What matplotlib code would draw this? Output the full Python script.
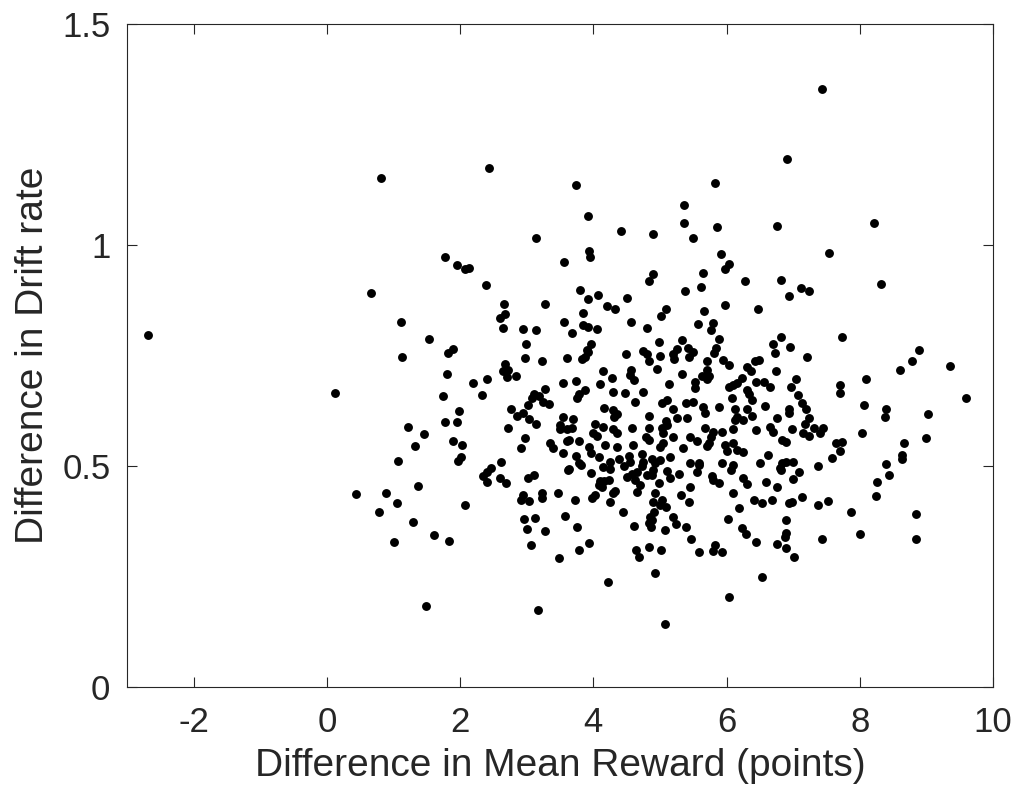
import numpy as np
import matplotlib.pyplot as plt

plt.rcParams['font.family'] = ['Liberation Sans', 'DejaVu Sans']

# difference in mean reward (points), difference in drift rate
reward = [
    0.82, 2.43, 3.14, 1.77, 1.96, 2.08, 2.14, 2.39, 0.67,
    6.91, 3.74, 5.82, 3.92, 5.36, 4.41, 4.89, 5.36, 5.49, 5.85, 6.76,
    3.94, 3.95, 3.56, 5.91, 6.03, 5.97, 5.64, 4.89, 4.84, 6.27, 6.82,
    3.80, 4.07, 3.92, 4.50, 5.37, 5.62, 6.94,
    7.44, 8.21, 7.54, 8.32, 7.12, 7.24,
    -2.69, 0.12,
    2.66, 3.27, 2.67, 2.60, 1.11, 3.56, 2.65, 2.95, 3.14, 1.53, 2.99, 1.89, 1.82,
    1.13, 2.98, 3.23, 3.61, 2.68, 2.64, 2.72, 2.71, 2.84, 1.81, 2.41, 2.19, 3.54,
    3.28, 1.75, 2.33, 3.11, 3.08, 3.19, 3.25, 3.34, 3.02, 2.76, 1.99, 2.94, 2.86,
    3.03, 3.14, 3.55, 1.78, 1.95, 3.50, 3.50, 1.22, 2.72, 1.46, 2.98, 3.61, 1.90,
    2.03, 1.32, 3.35, 3.40, 2.92, 3.54, 2.02, 1.97, 1.07, 2.61,
    2.46, 2.40, 2.34, 2.40, 2.60, 2.69, 3.02, 3.11, 2.94, 2.91, 3.03, 3.23, 3.23,
    3.47, 3.62, 0.43, 0.89, 1.37, 1.05, 0.78, 2.07, 1.30, 2.96, 3.13, 3.58, 3.01,
    3.28, 1.61, 1.83, 1.01, 3.07, 3.49, 1.49, 3.17,
    4.20, 4.33, 3.84, 5.09, 5.02, 5.66, 5.97, 6.48, 3.84, 3.92, 4.05, 4.56, 3.68,
    4.80, 5.57, 5.79, 5.76, 6.82, 6.70, 6.73, 5.89, 5.33, 4.99, 3.96, 3.90, 3.92,
    4.49, 4.74, 4.80, 5.25, 5.20, 5.21, 5.42, 5.49, 5.43, 5.84, 5.81, 3.83, 3.87,
    5.00, 4.84, 5.70, 5.95, 6.03, 6.49, 6.43, 6.30, 6.36, 4.14, 4.57, 4.55, 4.61,
    4.95, 5.33, 5.70, 5.74, 5.63, 5.70, 5.53, 5.53, 6.74, 4.28, 4.10, 3.74, 5.13,
    6.23, 6.16, 6.10, 6.03, 6.44, 6.57, 6.65, 3.88, 3.79, 3.76, 4.29, 4.48, 4.74,
    6.31, 6.34, 6.38, 6.08, 4.63, 5.10, 5.03, 5.39, 5.50, 5.19, 4.16, 4.30, 4.35,
    4.31, 5.65, 5.68, 5.88, 6.13, 6.15, 6.30, 6.38, 6.58, 3.70, 4.84, 5.41, 5.09,
    5.25, 6.25, 6.13, 6.76, 3.60, 3.68, 4.03, 4.14, 4.00, 4.06, 4.30, 4.35, 4.58,
    4.83, 4.79, 4.84, 5.03, 5.10, 5.05, 5.20, 5.68, 5.80, 5.76, 5.73, 5.93, 6.09,
    6.44, 6.65, 6.70, 6.83, 6.90, 3.63, 3.78, 5.45, 5.55, 4.18, 4.35, 3.93, 3.96,
    4.60, 5.00, 5.05, 5.35, 5.70, 5.98, 6.00, 6.10, 6.15, 6.24, 3.74, 3.78, 4.08,
    4.25, 4.15, 4.39, 4.53, 4.55, 4.73, 4.75, 4.88, 4.93, 5.00, 5.15, 5.45, 5.58,
    5.93, 6.10, 6.63, 6.83, 6.90, 6.50,
    3.63, 3.81, 3.96, 4.25, 4.46, 4.73, 4.90, 5.11, 5.28, 5.55, 5.59, 6.06, 6.24,
    6.31, 6.59, 6.76, 6.81, 4.10, 4.08, 4.16, 4.23, 4.13, 4.50, 4.58, 4.65, 4.63,
    4.80, 4.88, 4.70, 4.65, 4.98, 5.15, 5.78, 5.80, 5.89, 5.45, 3.72, 3.98, 4.03,
    4.25, 4.30, 4.33, 4.93, 4.90, 5.03, 5.00, 5.09, 5.31, 5.43, 6.09, 6.41, 6.54,
    6.69, 6.19, 6.94, 4.44, 4.91, 4.85, 4.88, 4.84, 5.20, 5.24, 5.39, 6.02, 6.89,
    3.76, 4.61, 4.87, 5.08, 6.23, 6.29, 6.90, 6.88, 3.93, 3.78, 5.47, 6.45, 6.76,
    6.89, 4.64, 4.69, 4.83, 5.01, 5.58, 5.83, 5.79, 5.93, 4.93, 4.22, 6.54, 6.04,
    5.07,
    7.74, 6.95, 7.21, 7.04, 6.97, 7.70, 7.71, 8.10, 8.61, 8.79, 8.89, 9.36, 9.59,
    7.07, 7.13, 7.19, 8.07, 8.39, 8.38, 9.03, 6.94, 6.94, 7.24, 7.18, 6.98, 7.32,
    7.45, 7.41, 7.15, 7.24, 8.03, 7.65, 7.73, 7.70, 9.00, 8.67, 8.63, 8.63, 7.00,
    7.59, 7.38, 8.39,
    6.82, 7.09, 8.44, 8.26, 8.24, 7.00, 6.98, 7.14, 7.37, 7.53, 7.87, 8.84, 7.44,
    8.00, 8.84, 7.01,
]
drift = [
    1.151, 1.174, 1.017, 0.972, 0.955, 0.945, 0.948, 0.909, 0.891,
    1.194, 1.136, 1.141, 1.066, 1.090, 1.031, 1.024, 1.050, 1.017, 1.041, 1.042,
    0.986, 0.972, 0.962, 0.980, 0.957, 0.945, 0.936, 0.934, 0.919, 0.919, 0.921,
    0.898, 0.888, 0.879, 0.880, 0.895, 0.904, 0.884,
    1.353, 1.050, 0.983, 0.912, 0.902, 0.897,
    0.796, 0.665,
    0.867, 0.866, 0.845, 0.834, 0.825, 0.826, 0.812, 0.810, 0.807, 0.787, 0.775, 0.764, 0.755,
    0.746, 0.744, 0.738, 0.744, 0.731, 0.716, 0.717, 0.701, 0.704, 0.708, 0.698, 0.688, 0.688,
    0.674, 0.658, 0.661, 0.662, 0.655, 0.658, 0.644, 0.640, 0.637, 0.629, 0.625, 0.619, 0.613,
    0.606, 0.594, 0.610, 0.600, 0.600, 0.593, 0.583, 0.588, 0.587, 0.573, 0.564, 0.557, 0.557,
    0.548, 0.545, 0.552, 0.541, 0.540, 0.529, 0.520, 0.511, 0.511, 0.508,
    0.495, 0.487, 0.477, 0.464, 0.472, 0.461, 0.472, 0.480, 0.435, 0.423, 0.421, 0.440, 0.428,
    0.440, 0.492, 0.437, 0.440, 0.454, 0.416, 0.397, 0.412, 0.373, 0.381, 0.382, 0.387, 0.357,
    0.353, 0.344, 0.330, 0.327, 0.321, 0.293, 0.184, 0.174,
    0.863, 0.856, 0.847, 0.856, 0.840, 0.851, 0.865, 0.855, 0.820, 0.814, 0.811, 0.825, 0.801,
    0.812, 0.822, 0.824, 0.808, 0.791, 0.775, 0.756, 0.787, 0.786, 0.780, 0.776, 0.762, 0.758,
    0.753, 0.761, 0.754, 0.764, 0.753, 0.743, 0.766, 0.758, 0.747, 0.766, 0.755, 0.742, 0.747,
    0.749, 0.737, 0.737, 0.741, 0.729, 0.741, 0.738, 0.725, 0.715, 0.716, 0.718, 0.706, 0.694,
    0.719, 0.709, 0.717, 0.703, 0.703, 0.698, 0.691, 0.677, 0.714, 0.700, 0.685, 0.692, 0.685,
    0.700, 0.688, 0.683, 0.679, 0.690, 0.690, 0.678, 0.672, 0.664, 0.655, 0.667, 0.666, 0.667,
    0.672, 0.663, 0.649, 0.655, 0.645, 0.649, 0.642, 0.642, 0.645, 0.630, 0.631, 0.626, 0.617,
    0.611, 0.633, 0.619, 0.633, 0.630, 0.611, 0.628, 0.613, 0.636, 0.607, 0.613, 0.608, 0.602,
    0.608, 0.604, 0.605, 0.609, 0.583, 0.585, 0.595, 0.589, 0.575, 0.569, 0.583, 0.575, 0.586,
    0.587, 0.566, 0.559, 0.585, 0.593, 0.574, 0.566, 0.586, 0.577, 0.566, 0.551, 0.578, 0.584,
    0.581, 0.589, 0.577, 0.559, 0.554, 0.560, 0.557, 0.566, 0.557, 0.547, 0.544, 0.542, 0.530,
    0.547, 0.542, 0.551, 0.540, 0.545, 0.547, 0.534, 0.551, 0.536, 0.532, 0.522, 0.506, 0.521,
    0.510, 0.498, 0.517, 0.522, 0.510, 0.527, 0.510, 0.517, 0.506, 0.513, 0.521, 0.506, 0.506,
    0.506, 0.502, 0.525, 0.506, 0.510, 0.506,
    0.493, 0.502, 0.485, 0.493, 0.500, 0.499, 0.491, 0.489, 0.482, 0.487, 0.502, 0.491, 0.474,
    0.459, 0.464, 0.452, 0.495, 0.467, 0.457, 0.465, 0.468, 0.452, 0.476, 0.483, 0.487, 0.468,
    0.480, 0.480, 0.457, 0.442, 0.461, 0.474, 0.477, 0.468, 0.461, 0.452, 0.423, 0.427, 0.434,
    0.419, 0.438, 0.444, 0.440, 0.419, 0.422, 0.412, 0.407, 0.435, 0.419, 0.439, 0.423, 0.417,
    0.423, 0.406, 0.416, 0.397, 0.395, 0.384, 0.378, 0.370, 0.385, 0.369, 0.363, 0.381, 0.378,
    0.363, 0.365, 0.363, 0.356, 0.359, 0.346, 0.348, 0.339, 0.325, 0.309, 0.335, 0.329, 0.323,
    0.314, 0.311, 0.295, 0.316, 0.311, 0.306, 0.321, 0.308, 0.306, 0.259, 0.238, 0.250, 0.204,
    0.143,
    0.792, 0.770, 0.747, 0.697, 0.678, 0.683, 0.666, 0.697, 0.717, 0.738, 0.762, 0.727, 0.655,
    0.660, 0.643, 0.630, 0.638, 0.629, 0.610, 0.618, 0.629, 0.620, 0.609, 0.596, 0.584, 0.587,
    0.587, 0.575, 0.574, 0.568, 0.574, 0.553, 0.555, 0.534, 0.564, 0.551, 0.525, 0.517, 0.510,
    0.519, 0.500, 0.504,
    0.490, 0.486, 0.480, 0.463, 0.433, 0.471, 0.419, 0.431, 0.411, 0.421, 0.395, 0.391, 0.336,
    0.346, 0.336, 0.294,
]

x_ticks = [-2, 0, 2, 4, 6, 8, 10]
y_ticks = [0, 0.5, 1, 1.5]
y_tick_labels = ['0', '0.5', '1', '1.5']

fig = plt.figure(figsize=(10.18, 8.01), dpi=100)
ax = fig.add_axes([0.1248, 0.1423, 0.8506, 0.8277])

ax.plot(reward, drift, 'o', color='black', markersize=6.4, markeredgewidth=0)

ax.set_xlim(-3, 10)
ax.set_ylim(0, 1.5)
ax.set_xticks(x_ticks)
ax.set_xticklabels([str(t) for t in x_ticks])
ax.set_yticks(y_ticks)
ax.set_yticklabels(y_tick_labels)

ax.tick_params(direction='in', length=7, width=0.8, colors='#262626',
               labelsize=25, top=True, right=True)
ax.tick_params(axis='x', pad=14)
ax.tick_params(axis='y', pad=12)
for s in ax.spines.values():
    s.set_color('#262626')
    s.set_linewidth(0.8)

ax.set_xlabel('Difference in Mean Reward (points)', fontsize=28, color='#262626', labelpad=6)
ax.set_ylabel('Difference in Drift rate', fontsize=28, color='#262626', labelpad=8)

fig.savefig('out.png', dpi=100, facecolor='white')
